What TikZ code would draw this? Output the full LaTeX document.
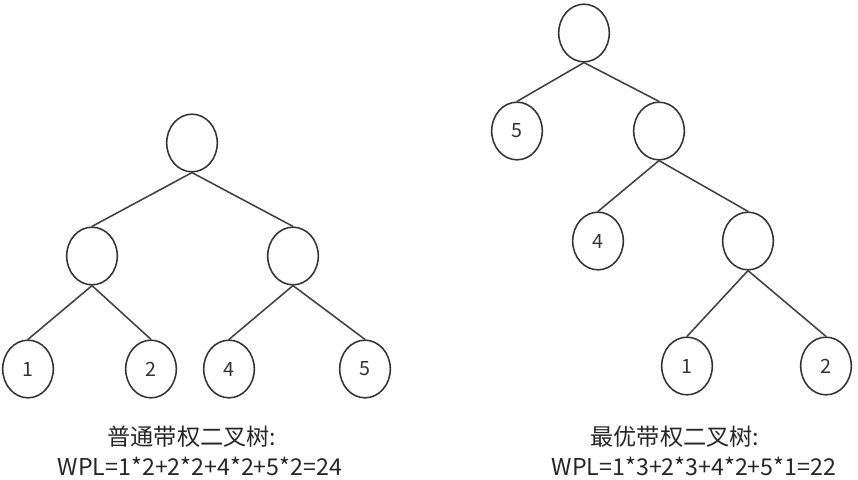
\documentclass[tikz,border=0pt]{standalone}
\usepackage{fontspec}
\setmainfont{Noto Sans CJK SC}
\usetikzlibrary{shapes.geometric}
\begin{document}
\begin{tikzpicture}[x=0.025cm,y=-0.025cm]
\tikzstyle{every node}+=[inner sep=0pt]
\tikzstyle{knot}=[draw=black!80,line width=1.1pt,ellipse,minimum width=36pt,minimum height=41pt,font=\fontsize{14}{14}\selectfont,text=black!80]
\tikzstyle{twig}=[draw=black!75,line width=1.1pt]
\tikzstyle{caption}=[font=\fontsize{16.5}{16.5}\selectfont,text=black!85]
\useasboundingbox (0,0) rectangle (858,480);
% left tree
\node [knot] (lr) at (192,143) {};
\node [knot] (la) at (92,256) {};
\node [knot] (lb) at (293,256) {};
\node [knot] (l1) at (28,369) {1};
\node [knot] (l2) at (151,369) {2};
\node [knot] (l4) at (229,369) {4};
\node [knot] (l5) at (365,369) {5};
\draw [twig] (lr.south) -- (la.north);
\draw [twig] (lr.south) -- (lb.north);
\draw [twig] (la.south) -- (l1.north);
\draw [twig] (la.south) -- (l2.north);
\draw [twig] (lb.south) -- (l4.north);
\draw [twig] (lb.south) -- (l5.north);
% right tree
\node [knot] (rr) at (584,33) {};
\node [knot] (r5) at (517,131) {5};
\node [knot] (ra) at (659,131) {};
\node [knot] (r4) at (598,241) {4};
\node [knot] (rb) at (748,241) {};
\node [knot] (r1) at (687,366) {1};
\node [knot] (r2) at (826,366) {2};
\draw [twig] (rr.south) -- (r5.north);
\draw [twig] (rr.south) -- (ra.north);
\draw [twig] (ra.south) -- (r4.north);
\draw [twig] (ra.south) -- (rb.north);
\draw [twig] (rb.south) -- (r1.north);
\draw [twig] (rb.south) -- (r2.north);
% captions
\node [caption] (lt) at (192,437) {普通带权二叉树:};
\node [caption] (lw) at (200,466) {WPL=1*2+2*2+4*2+5*2=24};
\node [caption] (rt) at (675,437) {最优带权二叉树:};
\node [caption] (rw) at (694,466) {WPL=1*3+2*3+4*2+5*1=22};
\end{tikzpicture}
\end{document}
